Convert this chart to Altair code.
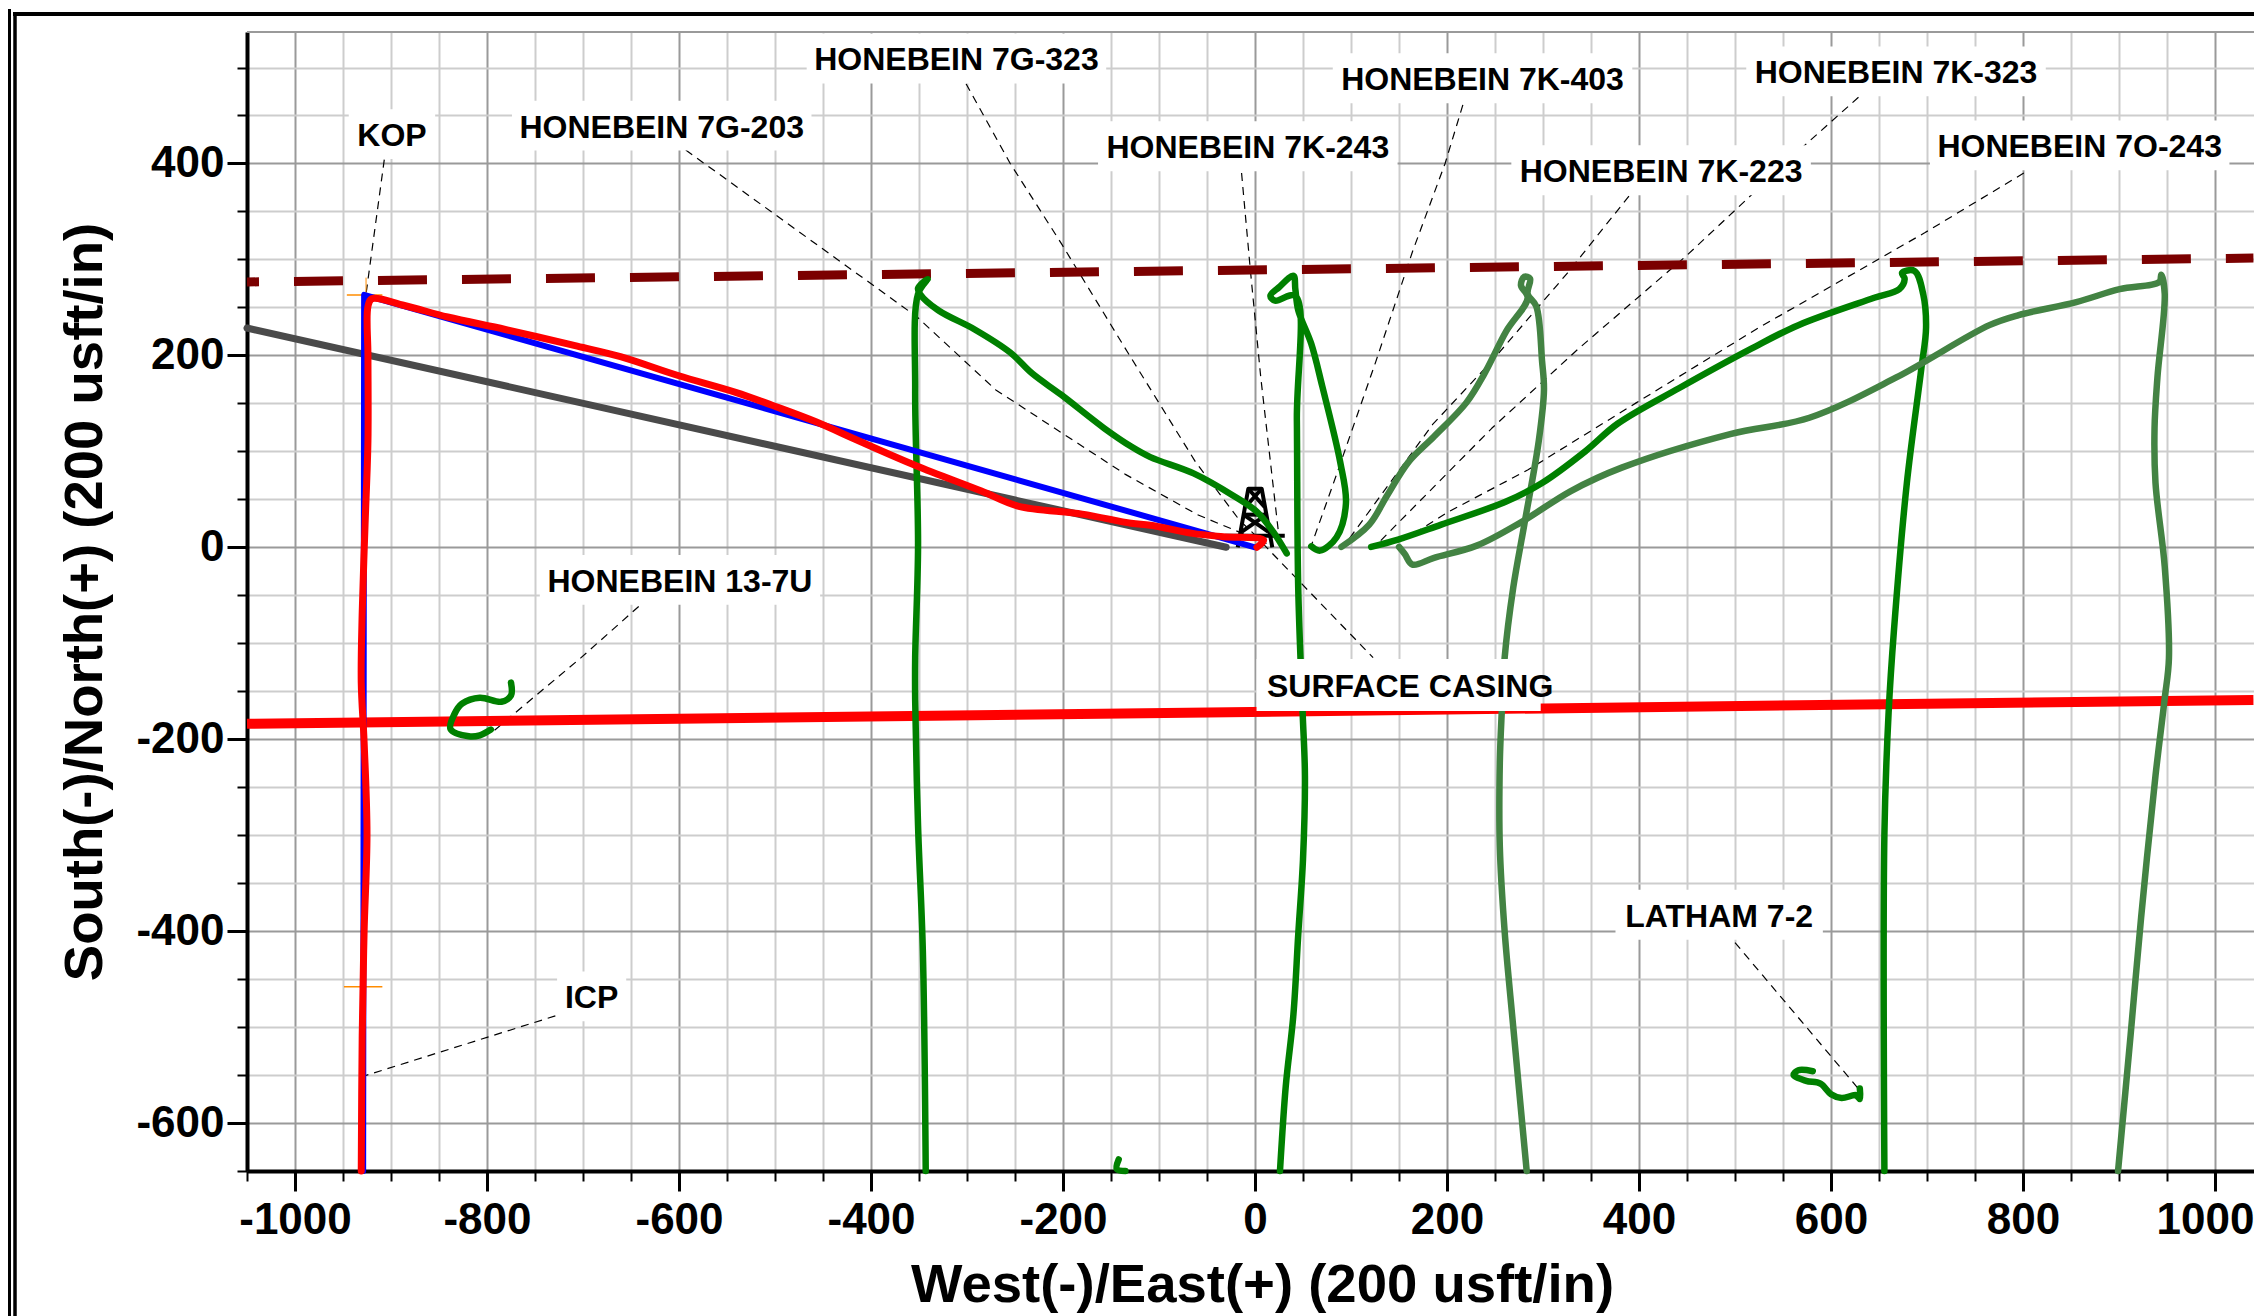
import altair as alt
import pandas as pd

# ---------- axes
X_TICKS = list(range(-1050, 1051, 50))
Y_TICKS = list(range(-650, 501, 50))
X_TITLE = "West(-)/East(+) (200 usft/in)"
Y_TITLE = "South(-)/North(+) (200 usft/in)"

# ---------- straight reference lines
LEASE_X = [-1050, 1040]
LEASE_Y = [276.5, 301.4]
SETBACK_X = [-1050, 1040]
SETBACK_Y = [-184, -159.1]
OFFSET_X = [-1050, -30]
OFFSET_Y = [228.5, 0]
OFFSET_EDGE_Y = [230, 1.5]

# ---------- wells
PLAN_X = [0, -928, -929]
PLAN_Y = [0, 263, -650]
ACTUAL_X = [2, 9, -33, -65, -109, -129, -180, -247, -285, -353, -413, -458, -503, -541, -601, -661, -706, -781, -841, -886, -920, -924, -924, -924, -927, -930, -931, -928, -925, -928, -930, -931]
ACTUAL_Y = [0, 7.5, 11, 14.5, 23, 25, 34.6, 43, 58.6, 85, 111, 131, 148, 161.5, 179, 198.7, 209.6, 227, 240, 252, 259, 251, 199, 111, 24, -68, -141, -203, -299, -400, -509, -650]
G323_X = [33, 19, 2, -23, -64, -109, -129, -157, -202, -232, -255, -292, -330, -349, -351, -341, -351, -354, -351, -354, -354, -351, -346, -343]
G323_Y = [-6.4, 16, 37, 54, 77, 94, 105, 124, 159, 181, 203, 227, 247, 264, 270, 279.6, 264, 164, 2, -115, -159, -290, -421, -650]
K243_X = [58.6, 67.7, 85, 94.7, 88.7, 70, 58.6, 45, 42, 40, 25, 16, 21, 42, 43.6, 45, 49.6, 52, 50, 45, 40, 32, 26]
K243_Y = [1, -3.5, 10.5, 45.5, 89, 168, 212, 247, 269, 283, 271, 262, 257, 262, 133, -42, -172, -238, -325, -404, -487, -562, -650]
K403_X = [90, 119, 137.6, 160, 186.5, 220, 239, 261.6, 284, 277, 280.5, 286.5, 284, 293, 299, 301, 295.6, 280.5, 269, 260, 257, 255, 255, 260, 269, 283]
K403_Y = [0.4, 23.6, 54, 89, 115.5, 150.5, 181, 225, 260, 273, 282, 280, 264, 251, 194, 164, 111, 23.6, -42, -115.5, -172, -224.5, -312, -400, -500, -650]
K323_X = [121, 149, 194, 261.6, 299, 344, 378, 442, 517, 566, 645, 671, 676.7, 674, 687, 696, 699, 694, 679, 665.6, 660, 655.6, 655.6]
K323_Y = [0.4, 8, 23.6, 47.7, 67, 100, 129, 166, 207, 231.5, 260, 269, 279.6, 286, 288, 264, 229, 185.6, 67, -86, -172, -299, -650]
O243_X = [150, 156, 164, 186.5, 231.6, 277, 329, 382, 495, 577.5, 668, 765, 795.5, 855.5, 900.7, 942, 944, 947.6, 940, 937, 938, 947.6, 952, 947.4, 938, 923, 912, 899]
O243_Y = [0.4, -7, -18, -11, 2, 26, 58.6, 83, 118, 135, 177, 231.5, 242, 255.6, 269, 276.6, 284, 264, 177, 124, 67, -20, -115.5, -159, -238, -386, -509, -650]
U13_X = [-775, -775, -785, -807.5, -826, -834, -838, -819, -807.5, -796]
U13_Y = [-141, -154.5, -161, -156.7, -163, -174, -189.5, -197, -196, -190]
LATHAM_X = [581, 566, 561, 574, 589, 600, 611, 626, 630, 630]
LATHAM_Y = [-546, -545, -550, -556, -559, -570, -574, -571, -575, -564]
STUB_X = [-142, -144, -135]
STUB_Y = [-638, -648, -650]

# ---------- casing points (orange crosses)
KOP_X = [-946, -909]
KOP_Y = [263, 263]
KOP_V_X = [-926, -926]
KOP_V_Y = [245, 281]
ICP_X = [-949, -909]
ICP_Y = [-458, -458]

# ---------- derrick symbol
DERRICK = [
    ([-18, -7, 7, 18], [0, 61, 61, 0]),
    ([-31, 31], [12, 12]),
    ([-14, 12], [16, 34]),
    ([14, -12], [16, 34]),
    ([-11, 11], [34, 34]),
    ([-7, 10], [61, 42]),
    ([7, -10], [61, 42]),
]

# ---------- labels
LABELS = ["KOP", "HONEBEIN 7G-203", "HONEBEIN 7G-323", "HONEBEIN 7K-243", "HONEBEIN 7K-403",
          "HONEBEIN 7K-323", "HONEBEIN 7K-223", "HONEBEIN 7O-243", "HONEBEIN 13-7U", "ICP",
          "LATHAM 7-2", "SURFACE CASING"]
LABEL_X = [-899, -618, -311, -7.5, 237, 667.7, 423, 859, -599, -691, 483.5, 161.6]
LABEL_Y = [430.6, 439.4, 509.4, 418, 488.8, 496, 393, 418.8, -34, -468, -383, -143.5]
BOX_HW = [45, 156, 156, 156, 156, 156, 156, 156, 146, 36, 108, 148]
BOX_X_SHIFT = [0, 0, 0, 0, 0, 0, 0, 0, 0, 0, 0, -12]
BOX_HH = [26, 26, 26, 26, 26, 26, 26, 26, 26, 26, 26, 27]

# ---------- leader lines
LEADERS = [
    ([-907, -926], [404, 264]),
    ([-593, -352, -270, -135, -60, 12], [414, 240, 164, 76, 34, 4]),
    ([-301, -255, -202, -135, -62, -16, 5], [483, 400, 317, 207, 89, 28, 8]),
    ([-14, -5, 6, 25], [390, 290.6, 177, 10.5]),
    ([216.5, 198, 164, 126, 85, 58.6], [461, 400, 308, 194, 76, 1.7]),
    ([389.5, 325.6, 246.6, 185, 96], [366, 286, 194, 128, 6]),
    ([628.6, 566, 449.6, 337, 246.6, 130], [469, 413, 304, 207, 124, 6]),
    ([800.8, 698, 525, 397, 284, 201.5, 152.6], [390, 328, 229, 150.5, 80.5, 37, 6]),
    ([-642, -702, -770, -796], [-61.7, -115, -172, -194]),
    ([-701, -928], [-479.6, -551]),
    ([500, 630], [-412, -566]),
    ([8, 123], [4, -115]),
]

WIDTH = 2007
HEIGHT = 1139
XS = alt.Scale(domain=[-1050, 1040.6], nice=False, zero=False)
YS = alt.Scale(domain=[-650, 537], nice=False, zero=False)

MAJOR_GRID = "#9a9a9a"
MINOR_GRID = "#cdcdcd"
DARK_GREEN = "#008000"
SOFT_GREEN = "#438343"


def line(xs, ys, color, width, **kw):
    df = pd.DataFrame({"x": xs, "y": ys, "o": range(len(xs))})
    return alt.Chart(df).mark_line(
        color=color, strokeWidth=width, strokeCap=kw.pop("cap", "round"), strokeJoin="round", **kw
    ).encode(
        x=alt.X("x:Q", scale=XS),
        y=alt.Y("y:Q", scale=YS),
        order="o:O",
    )


def well(xs, ys, color, width):
    return line(xs, ys, color, width, interpolate="catmull-rom")


def axis_props(values, test, title, **kw):
    return alt.Axis(
        values=values,
        title=title,
        grid=True,
        gridColor={"expr": f"{test} ? '{MAJOR_GRID}' : '{MINOR_GRID}'"},
        gridWidth=2,
        domainColor="black",
        domainWidth=4,
        tickColor="black",
        tickSize={"expr": f"{test} ? 20 : 10"},
        tickWidth={"expr": f"{test} ? 3 : 2"},
        labelExpr=f"{test} ? '' + datum.value : ''",
        labelFont="Liberation Sans",
        labelFontWeight="bold",
        labelFontSize=44,
        labelColor="black",
        labelOverlap=False,
        labelBound=False,
        labelFlush=False,
        titleFont="Liberation Sans",
        titleFontWeight="bold",
        titleFontSize=54.5,
        titleColor="black",
        **kw,
    )


IS_MAJOR = "datum.value % 200 === 0"

base = alt.Chart(pd.DataFrame({"x": [0], "y": [0]})).mark_point(opacity=0).encode(
    x=alt.X("x:Q", scale=XS, axis=axis_props(
        X_TICKS, IS_MAJOR, X_TITLE, labelPadding=7, titlePadding=16, titleX=1015,
        labelOffset={"expr": "datum.value === 1000 ? -10 : 0"},
    )),
    y=alt.Y("y:Q", scale=YS, axis=axis_props(Y_TICKS, IS_MAJOR, Y_TITLE, labelPadding=3, titlePadding=23)),
)

layers = [base]

# top border of the grid
layers.append(alt.Chart(pd.DataFrame({"y": [537]})).mark_rule(color=MAJOR_GRID, strokeWidth=2).encode(
    y=alt.Y("y:Q", scale=YS)))

# derrick
for dx, dy in DERRICK:
    layers.append(line(dx, dy, "black", 4, cap="butt"))

# leaders
for lx, ly in LEADERS:
    layers.append(line(lx, ly, "black", 1.2, cap="butt", strokeDash=[8, 6]))

layers += [
    line(LEASE_X, LEASE_Y, "#7b0000", 9, cap="butt", strokeDash=[49, 35], strokeDashOffset=37),
    line(SETBACK_X, SETBACK_Y, "#ff0000", 10, cap="butt"),
    line(OFFSET_X, OFFSET_EDGE_Y, "#7a2fa8", 2),
    line(OFFSET_X, OFFSET_Y, "#4a4a4a", 7),
    well(G323_X, G323_Y, DARK_GREEN, 6.5),
    well(K243_X, K243_Y, DARK_GREEN, 6.5),
    well(K403_X, K403_Y, SOFT_GREEN, 6.5),
    well(K323_X, K323_Y, DARK_GREEN, 6.5),
    well(O243_X, O243_Y, SOFT_GREEN, 6.5),
    well(U13_X, U13_Y, DARK_GREEN, 6.5),
    well(LATHAM_X, LATHAM_Y, DARK_GREEN, 6.5),
    well(STUB_X, STUB_Y, DARK_GREEN, 6.5),
    line(KOP_X, KOP_Y, "#ff8c00", 1.5, cap="butt"),
    line(KOP_V_X, KOP_V_Y, "#ff8c00", 1, cap="butt"),
    line(ICP_X, ICP_Y, "#ff8c00", 1.5, cap="butt"),
    line(PLAN_X, PLAN_Y, "#0000ff", 6),
    well(ACTUAL_X, ACTUAL_Y, "#ff0000", 7),
]

# white label boxes
boxes = pd.DataFrame({
    "x1": [x + s - w for x, s, w in zip(LABEL_X, BOX_X_SHIFT, BOX_HW)],
    "x2": [x + s + w for x, s, w in zip(LABEL_X, BOX_X_SHIFT, BOX_HW)],
    "y1": [y - h for y, h in zip(LABEL_Y, BOX_HH)],
    "y2": [y + h for y, h in zip(LABEL_Y, BOX_HH)],
})
layers.append(alt.Chart(boxes).mark_rect(color="white", opacity=1).encode(
    x=alt.X("x1:Q", scale=XS), x2="x2:Q",
    y=alt.Y("y1:Q", scale=YS), y2="y2:Q",
))

# label text
texts = pd.DataFrame({"x": LABEL_X, "y": LABEL_Y, "t": LABELS})
layers.append(alt.Chart(texts).mark_text(
    font="Liberation Sans", fontWeight="bold", fontSize=32, color="black", baseline="middle", align="center", dy=2
).encode(
    x=alt.X("x:Q", scale=XS),
    y=alt.Y("y:Q", scale=YS),
    text="t:N",
))

# page frame
FRAME = alt.Chart(pd.DataFrame({"a": [0]}))
X0 = -247
Y0 = -32
layers += [
    FRAME.mark_rule(color="black", strokeWidth=3.5).encode(x=alt.value(15 + X0), y=alt.value(14 + Y0), y2=alt.value(1316 + Y0)),
    FRAME.mark_rule(color="black", strokeWidth=4).encode(x=alt.value(13 + X0), x2=alt.value(2262 + X0), y=alt.value(14 + Y0)),
    FRAME.mark_rule(color="black", strokeWidth=3).encode(x=alt.value(9.5 + X0), y=alt.value(9 + Y0), y2=alt.value(1316 + Y0)),
]

chart = alt.layer(*layers).properties(
    width=WIDTH,
    height=HEIGHT,
    padding={"left": 239, "top": 24, "right": 0, "bottom": 145},
    autosize=alt.AutoSizeParams(type="none"),
    background="white",
).configure_view(stroke=None)

chart.save("out.html", embed_options={"renderer": "svg", "actions": False})
